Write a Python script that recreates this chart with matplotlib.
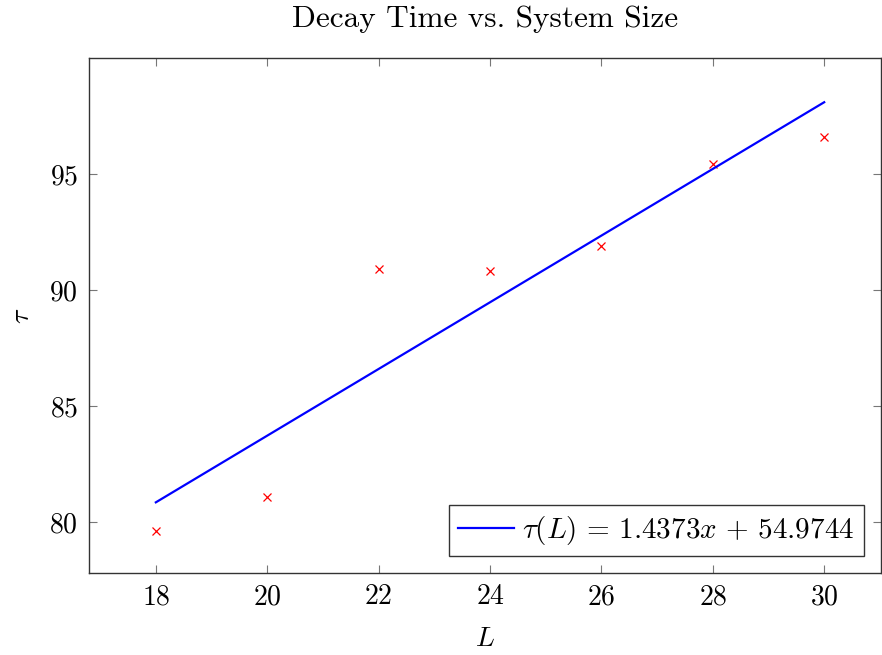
import matplotlib
matplotlib.use("Agg")
import matplotlib.pyplot as plt
import numpy as np

L_vals = [18, 20, 22, 24, 26, 28, 30]
tau_vals = [79.62, 81.07, 90.9, 90.82, 91.88, 95.43, 96.6]
slope = 1.4373
intercept = 54.9744
xticks = [18, 20, 22, 24, 26, 28, 30]
yticks = [80, 85, 90, 95]

plt.rcParams['mathtext.fontset'] = 'cm'
plt.rcParams['font.family'] = 'serif'
plt.rcParams['font.serif'] = ['cmr10', 'DejaVu Serif']
plt.rcParams['axes.formatter.use_mathtext'] = True

fig = plt.figure(figsize=(8.82, 6.55), dpi=100)
ax = fig.add_axes([89/882, 82/655, 792/882, 515/655])

ax.plot(L_vals, tau_vals, linestyle='none', marker='x', color='red',
        markersize=6, markeredgewidth=0.9)
x_fit = np.array([L_vals[0], L_vals[-1]])
ax.plot(x_fit, slope * x_fit + intercept, color='blue', lw=1.6,
        label=r'$\tau(L)\,=\,1.4373x\,+\,54.9744$')

ax.set_xlim(16.8, 31.02)
ax.set_ylim(77.8, 100.0)
ax.set_xticks(xticks)
ax.set_xticklabels([f'${t}$' for t in xticks])
ax.set_yticks(yticks)
ax.set_yticklabels([f'${t}$' for t in yticks])
ax.tick_params(direction='in', top=True, right=True, length=6, width=0.8,
               color='#777777', labelsize=20, pad=8)
for s in ax.spines.values():
    s.set_linewidth(1.0)
    s.set_color('#333333')

ax.set_xlabel(r'$L$', fontsize=20, labelpad=11)
ax.set_ylabel(r'$\tau$', fontsize=20, labelpad=10)
ax.set_title('Decay Time vs. System Size', fontsize=22.5, pad=22)

leg = ax.legend(loc='lower right', fontsize=21, frameon=True, fancybox=False,
                edgecolor='#333333', framealpha=1, handlelength=1.9,
                handletextpad=0.3, borderpad=0.3, borderaxespad=0.6)
leg.get_frame().set_linewidth(1.0)

fig.savefig('out.png', dpi=100)
